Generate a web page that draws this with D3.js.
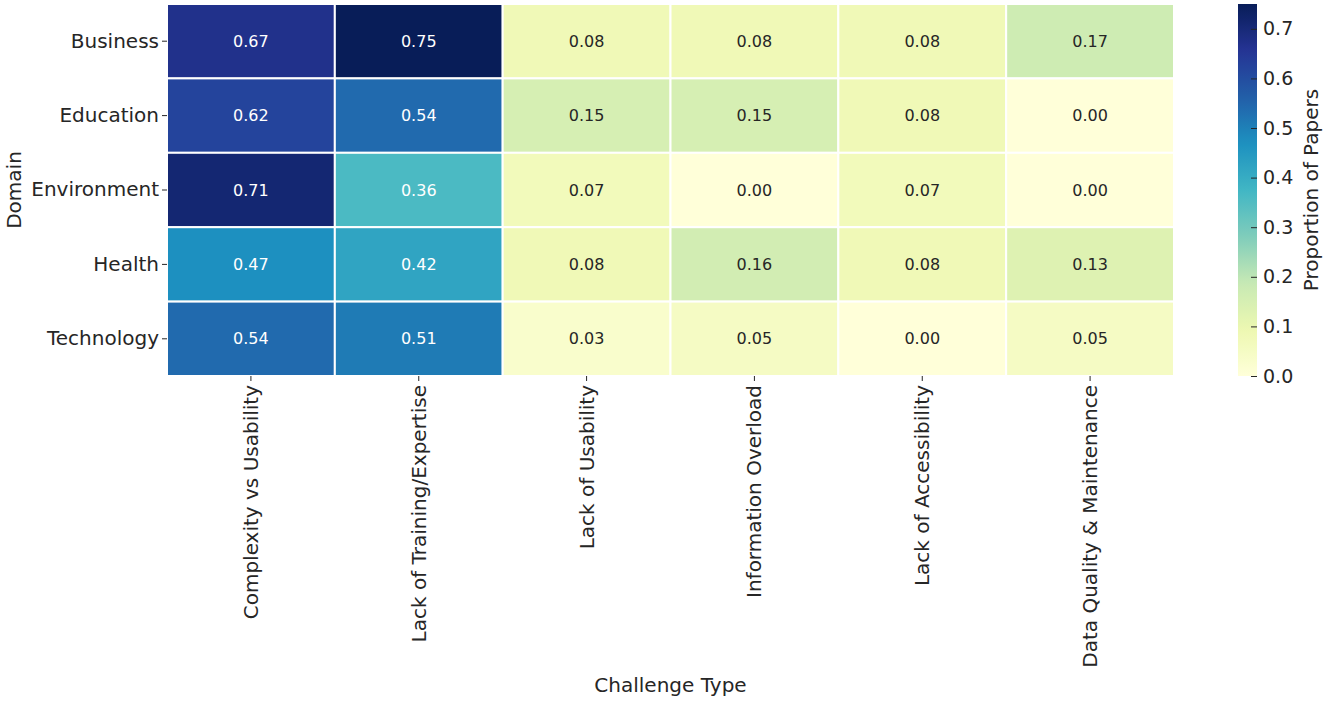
<!DOCTYPE html>
<html>
<head>
<meta charset="utf-8">
<script src="https://cdn.jsdelivr.net/npm/d3@7"></script>
<style>
  body { margin: 0; background: #fff; }
  svg text { font-family: "DejaVu Sans", "Noto Sans", sans-serif; }
  .tick text { fill: #262626; }
  .tick line { stroke: #262626; }
</style>
</head>
<body>
<svg id="heatmapSvg"></svg>
<script>
// chart data
var domains = ["Business", "Education", "Environment", "Health", "Technology"];
var challenges = ["Complexity vs Usability", "Lack of Training/Expertise", "Lack of Usability",
                  "Information Overload", "Lack of Accessibility", "Data Quality & Maintenance"];
var business    = [0.67, 0.75, 0.08, 0.08, 0.08, 0.17];
var education   = [0.62, 0.54, 0.15, 0.15, 0.08, 0.00];
var environment = [0.71, 0.36, 0.07, 0.00, 0.07, 0.00];
var health      = [0.47, 0.42, 0.08, 0.16, 0.08, 0.13];
var technology  = [0.54, 0.51, 0.03, 0.05, 0.00, 0.05];
var colorTicks  = [0, 0.1, 0.2, 0.3, 0.4, 0.5, 0.6, 0.7];

var rows = [business, education, environment, health, technology];
var cells = [];
rows.forEach(function(vals, i) {
  vals.forEach(function(v, j) {
    cells.push({domain: domains[i], challenge: challenges[j], value: v});
  });
});

var svg = d3.select("#heatmapSvg")
    .attr("width", 1325)
    .attr("height", 702);

var plotLeft = 167, plotRight = 1174, plotTop = 4, plotBottom = 376;

var x = d3.scaleBand().domain(challenges).range([plotLeft, plotRight]);
var y = d3.scaleBand().domain(domains).range([plotTop, plotBottom]);

var vmax = d3.max(cells, function(d) { return d.value; });
var scheme = d3.schemeYlGnBu[9];
var color = d3.scaleLinear()
    .domain(scheme.map(function(c, i) { return vmax * i / 8; }))
    .range(scheme)
    .interpolate(d3.interpolateRgb)
    .clamp(true);

// seaborn style text colour from cell luminance
function luminance(c) {
  var rgb = d3.rgb(c);
  var ch = [rgb.r, rgb.g, rgb.b].map(function(v) {
    v = v / 255;
    return v <= 0.03928 ? v / 12.92 : Math.pow((v + 0.055) / 1.055, 2.4);
  });
  return 0.2126 * ch[0] + 0.7152 * ch[1] + 0.0722 * ch[2];
}

svg.selectAll(".cell")
    .data(cells)
    .enter().append("rect")
    .attr("class", "cell")
    .attr("x", function(d) { return x(d.challenge); })
    .attr("y", function(d) { return y(d.domain); })
    .attr("width", x.bandwidth())
    .attr("height", y.bandwidth())
    .attr("fill", function(d) { return color(d.value); })
    .attr("stroke", "#fff")
    .attr("stroke-width", 2);

svg.selectAll(".annot")
    .data(cells)
    .enter().append("text")
    .attr("class", "annot")
    .attr("x", function(d) { return x(d.challenge) + x.bandwidth() / 2; })
    .attr("y", function(d) { return y(d.domain) + y.bandwidth() / 2; })
    .attr("dy", "0.35em")
    .attr("text-anchor", "middle")
    .attr("font-size", 16)
    .attr("fill", function(d) { return luminance(color(d.value)) > 0.408 ? "#262626" : "#fff"; })
    .text(function(d) { return d.value.toFixed(2); });

// axes
var yAxis = svg.append("g")
    .attr("transform", "translate(" + plotLeft + ",0)")
    .call(d3.axisLeft(y).tickSize(5).tickPadding(3));
yAxis.select(".domain").remove();
yAxis.attr("font-family", null);
yAxis.selectAll("text").attr("font-size", 20);

var xAxis = svg.append("g")
    .attr("transform", "translate(0," + plotBottom + ")")
    .call(d3.axisBottom(x).tickSize(5).tickPadding(4));
xAxis.select(".domain").remove();
xAxis.attr("font-family", null);
xAxis.selectAll("text")
    .attr("font-size", 20)
    .attr("transform", "rotate(-90)")
    .attr("text-anchor", "end")
    .attr("x", -9)
    .attr("y", 0)
    .attr("dy", "0.35em");

svg.append("text")
    .attr("x", (plotLeft + plotRight) / 2)
    .attr("y", 692)
    .attr("text-anchor", "middle")
    .attr("font-size", 20)
    .attr("fill", "#262626")
    .text("Challenge Type");

svg.append("text")
    .attr("transform", "translate(21," + (plotTop + plotBottom) / 2 + ") rotate(-90)")
    .attr("text-anchor", "middle")
    .attr("font-size", 20)
    .attr("fill", "#262626")
    .text("Domain");

// colorbar
var cbLeft = 1238, cbWidth = 19;
var cb = d3.scaleLinear().domain([0, vmax]).range([plotBottom, plotTop]);

var grad = svg.append("defs").append("linearGradient")
    .attr("id", "cbGrad")
    .attr("x1", "0").attr("y1", "1").attr("x2", "0").attr("y2", "0");
grad.selectAll("stop")
    .data(d3.range(0, 1.0001, 0.02))
    .enter().append("stop")
    .attr("offset", function(t) { return t; })
    .attr("stop-color", function(t) { return color(t * vmax); });

svg.append("rect")
    .attr("x", cbLeft)
    .attr("y", plotTop)
    .attr("width", cbWidth)
    .attr("height", plotBottom - plotTop)
    .attr("fill", "url(#cbGrad)");

var cbAxis = svg.append("g")
    .attr("transform", "translate(" + (cbLeft + cbWidth) + ",0)")
    .call(d3.axisRight(cb).tickValues(colorTicks).tickFormat(d3.format(".1f")).tickSize(-6).tickPadding(6));
cbAxis.select(".domain").remove();
cbAxis.attr("font-family", null);
cbAxis.selectAll("text").attr("font-size", 19);

svg.append("text")
    .attr("transform", "translate(1318," + (plotTop + plotBottom) / 2 + ") rotate(-90)")
    .attr("text-anchor", "middle")
    .attr("font-size", 20)
    .attr("fill", "#262626")
    .text("Proportion of Papers");
</script>
</body>
</html>
